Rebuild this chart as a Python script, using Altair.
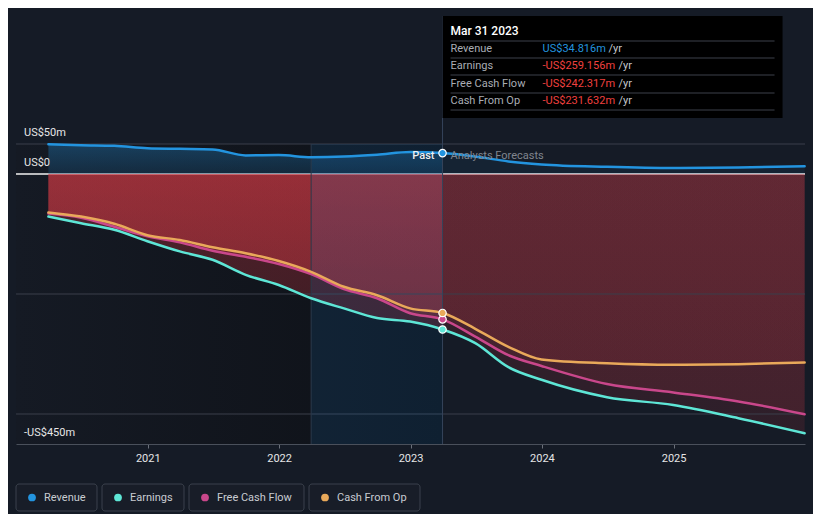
import altair as alt
import pandas as pd

# ---------------- data ----------------
hist_dates = ["2020-03-31", "2020-06-30", "2020-09-30", "2020-12-31", "2021-03-31",
              "2021-06-30", "2021-09-30", "2021-12-31", "2022-03-31", "2022-06-30",
              "2022-09-30", "2022-12-31", "2023-03-31"]
fc_dates = ["2023-03-31", "2023-06-30", "2023-09-30", "2023-12-31", "2024-06-30",
            "2024-12-31", "2025-06-30", "2025-12-31"]

revenue_hist = [49.5, 48, 47, 43, 42, 41, 31, 31.5, 28, 29, 32, 36.5, 34.816]
earnings_hist = [-71, -82, -93, -112, -129, -143, -168, -185, -207, -224, -240, -246, -259.156]
fcf_hist = [-66, -73, -88, -104, -114, -128, -138, -150, -167, -192, -207, -232, -242.317]
cfo_hist = [-64, -71, -83, -102, -110, -122, -132, -145, -163, -188, -202, -224, -231.632]

revenue_fc = [34.816, 29, 21, 16, 12, 10, 11, 13]
earnings_fc = [-259.156, -282, -322, -343, -372, -385, -407, -432]
fcf_fc = [-242.317, -271, -302, -320, -350, -364, -379, -400.5]
cfo_fc = [-231.632, -258, -288, -309, -315.5, -318, -317, -314]

series_names = ["Revenue", "Earnings", "Free Cash Flow", "Cash From Op"]
series_colors = ["#2394df", "#5ee6d6", "#c9478b", "#e9a95a"]

y_label_values = [50, 0, -450]
y_label_texts = ["US$50m", "US$0", "-US$450m"]
grid_values = [50, -200, -400]
x_tick_years = [2021, 2022, 2023, 2024, 2025]

tip_date = "Mar 31 2023"
past_start = "2020-01-01"
highlight_start = "2022-03-31"
now_date = "2023-03-31"
domain_start = "2020-01-01"
domain_end = "2026-01-01"

# ---------------- layout constants ----------------
W, H = 789, 300
FONT = "Roboto"
BG = "#151b26"

hist_vals = [revenue_hist, earnings_hist, fcf_hist, cfo_hist]
fc_vals = [revenue_fc, earnings_fc, fcf_fc, cfo_fc]

rows = []
for name, hv, fv in zip(series_names, hist_vals, fc_vals):
    for d, v in zip(hist_dates, hv):
        rows.append({"date": d, "value": v, "series": name, "phase": "past"})
    for d, v in zip(fc_dates, fv):
        rows.append({"date": d, "value": v, "series": name, "phase": "forecast"})
df = pd.DataFrame(rows)

line_rows = []
for name, hv, fv in zip(series_names, hist_vals, fc_vals):
    for d, v in zip(hist_dates + fc_dates[1:], hv + fv[1:]):
        line_rows.append({"date": d, "value": v, "series": name})
line_df = pd.DataFrame(line_rows)

t0 = pd.Timestamp(domain_start)
t1 = pd.Timestamp(domain_end)


def px(date_str):
    return float((pd.Timestamp(date_str) - t0) / (t1 - t0) * W)


x_scale = alt.Scale(domain=[domain_start, domain_end])
y_scale = alt.Scale(domain=[-450, 50], nice=False, zero=False)
color_scale = alt.Scale(domain=series_names, range=series_colors)

X_AXIS = alt.Axis(values=[f"{y}-01-01" for y in x_tick_years],
                  format="%Y", grid=False, labelColor="#e6e6e6", labelFontSize=11,
                  labelFont=FONT, tickColor="#6b707a", tickSize=4, domainColor="#4a505b",
                  labelPadding=4, title=None)


def XT(field):
    return alt.X(field, type="temporal", scale=x_scale, axis=X_AXIS)


def YQ(field):
    return alt.Y(field, type="quantitative", scale=y_scale, stack=None, axis=None)


one = pd.DataFrame({"k": [0]})


def deco_text(txt, x, y, **kw):
    return alt.Chart(pd.DataFrame({"t": [txt]})).mark_text(font=FONT, **kw).encode(
        x=alt.value(x), y=alt.value(y), text="t:N")


past_df = df[df.phase == "past"]
fc_df = df[df.phase == "forecast"]

layers = []

# background of past region
layers.append(alt.Chart(pd.DataFrame({"a": [past_start], "b": [now_date]})).mark_rect(
    color=alt.Gradient(gradient="linear",
                       stops=[alt.GradientStop(color="#151a24", offset=0),
                              alt.GradientStop(color="#0e1117", offset=1)],
                       x1=0, x2=1, y1=0, y2=0)
).encode(x=XT("a"), x2="b", y=alt.value(0), y2=alt.value(H)))

layers.append(alt.Chart(pd.DataFrame({"v": [0]})).mark_rule(color="#f2f2f2", strokeWidth=1.5).encode(
    y=YQ("v"), x=alt.value(0), x2=alt.value(W)))

layers.append(alt.Chart(past_df[past_df.series == "Revenue"]).mark_area(
    interpolate="monotone", opacity=0.32,
    color=alt.Gradient(gradient="linear",
                       stops=[alt.GradientStop(color="#2394df", offset=0),
                              alt.GradientStop(color="#17527d", offset=1)],
                       x1=1, x2=1, y1=0, y2=1)
).encode(x=XT("date"), y=YQ("value"), y2=alt.datum(0)))

layers.append(alt.Chart(fc_df[fc_df.series == "Revenue"]).mark_area(
    interpolate="monotone", opacity=0.07, color="#2394df"
).encode(x=XT("date"), y=YQ("value"), y2=alt.datum(0)))

for name in series_names[1:]:
    layers.append(alt.Chart(past_df[past_df.series == name]).mark_area(
        interpolate="monotone", opacity=0.32,
        color=alt.Gradient(gradient="linear",
                           stops=[alt.GradientStop(color="#d43a44", offset=0),
                                  alt.GradientStop(color="#a8303a", offset=1)],
                           x1=1, x2=1, y1=0, y2=1)
    ).encode(x=XT("date"), y=YQ("value"), y2=alt.datum(0)))
    layers.append(alt.Chart(fc_df[fc_df.series == name]).mark_area(
        interpolate="monotone", opacity=0.17,
        color=alt.Gradient(gradient="linear",
                           stops=[alt.GradientStop(color="#c83a46", offset=0),
                                  alt.GradientStop(color="#a8303c", offset=1)],
                           x1=1, x2=1, y1=0, y2=1)
    ).encode(x=XT("date"), y=YQ("value"), y2=alt.datum(0)))

layers.append(alt.Chart(pd.DataFrame({"v": grid_values})).mark_rule(color="#3a3f4a", strokeWidth=1).encode(
    y=YQ("v"), x=alt.value(0), x2=alt.value(W)))

layers.append(alt.Chart(pd.DataFrame({"a": [highlight_start], "b": [now_date]})).mark_rect(
    color="#1e78c8", opacity=0.15
).encode(x=XT("a"), x2="b", y=alt.value(0), y2=alt.value(H)))

layers.append(alt.Chart(pd.DataFrame({"a": [highlight_start]})).mark_rule(
    color="#2a3a4c", strokeWidth=1
).encode(x=XT("a"), y=alt.value(0), y2=alt.value(H)))

tip_x = px(now_date)
tip_top = -128
tip_w = 340

layers.append(alt.Chart(pd.DataFrame({"a": [now_date]})).mark_rule(
    color="#35445a", strokeWidth=1
).encode(x=XT("a"), y=alt.value(tip_top), y2=alt.value(H)))

layers.append(alt.Chart(line_df).mark_line(interpolate="monotone", strokeWidth=2.5, strokeCap="round").encode(
    x=XT("date"), y=YQ("value"),
    color=alt.Color("series:N", scale=color_scale, legend=None), detail="series:N"))

layers.append(alt.Chart(df[(df.date == now_date) & (df.phase == "past")]).mark_circle(
    size=55, opacity=1, stroke="#ffffff", strokeWidth=1.2
).encode(x=XT("date"), y=YQ("value"), color=alt.Color("series:N", scale=color_scale, legend=None)))

layers.append(alt.Chart(pd.DataFrame({"v": y_label_values, "t": y_label_texts})).mark_text(
    align="left", baseline="alphabetic", dy=-8, font=FONT, fontSize=11, color="#e6e6e6"
).encode(y=YQ("v"), x=alt.value(8), text="t:N"))

layers.append(deco_text("Past", tip_x - 8, 12, align="right", baseline="middle",
                        fontSize=11, fontWeight=500, color="#f0f0f0"))
layers.append(deco_text("Analysts Forecasts", tip_x + 8, 12, align="left", baseline="middle",
                        fontSize=11, color="#80858e"))

# tooltip box
layers.append(alt.Chart(one).mark_rect(color="#000000").encode(
    x=alt.value(tip_x), x2=alt.value(tip_x + tip_w), y=alt.value(tip_top), y2=alt.value(tip_top + 102)))
layers.append(deco_text(tip_date, tip_x + 8, tip_top + 15, align="left", baseline="middle",
                        fontSize=12, fontWeight=500, color="#ffffff"))
for sy in [25, 42, 59, 77, 94]:
    layers.append(alt.Chart(one).mark_rule(color="#3c414b", strokeWidth=1).encode(
        y=alt.value(tip_top + sy), x=alt.value(tip_x + 8), x2=alt.value(tip_x + tip_w - 8)))

last_vals = [revenue_hist[-1], earnings_hist[-1], fcf_hist[-1], cfo_hist[-1]]
row_dy = [33, 50, 68, 85]
for name, v, dy in zip(series_names, last_vals, row_dy):
    vt = ("US$" if v >= 0 else "-US$") + f"{abs(v):.3f}m"
    vc = "#2394df" if v >= 0 else "#f0413f"
    yr_dx = 66 if v >= 0 else 76
    layers.append(deco_text(name, tip_x + 8, tip_top + dy, align="left", baseline="middle",
                            fontSize=11, color="#a9adb4"))
    layers.append(deco_text(vt, tip_x + 100, tip_top + dy, align="left", baseline="middle",
                            fontSize=11, color=vc))
    layers.append(deco_text("/yr", tip_x + 100 + yr_dx, tip_top + dy, align="left", baseline="middle",
                            fontSize=11, color="#c4c7cc"))

# legend
box_w = [81, 82, 115, 111]
leg_top, leg_bot = 340, 367
cur = 0
for name, col, bw in zip(series_names, series_colors, box_w):
    layers.append(alt.Chart(one).mark_rect(fill="#181d28", stroke="#3b414c", strokeWidth=1,
                                           cornerRadius=3).encode(
        x=alt.value(cur), x2=alt.value(cur + bw), y=alt.value(leg_top), y2=alt.value(leg_bot)))
    layers.append(alt.Chart(one).mark_circle(size=60, opacity=1, color=col).encode(
        x=alt.value(cur + 16), y=alt.value((leg_top + leg_bot) / 2)))
    layers.append(deco_text(name, cur + 28, (leg_top + leg_bot) / 2, align="left", baseline="middle",
                            fontSize=11, color="#c8ccd2"))
    cur += bw + 5

chart = alt.layer(*layers).properties(
    width=W, height=H, background=BG,
    padding={"left": 8, "top": 136, "right": 8, "bottom": 70},
    autosize=alt.AutoSizeParams(type="none")
).configure_view(stroke=None)

chart.save("out.html", embed_options={"renderer": "svg", "actions": False})
